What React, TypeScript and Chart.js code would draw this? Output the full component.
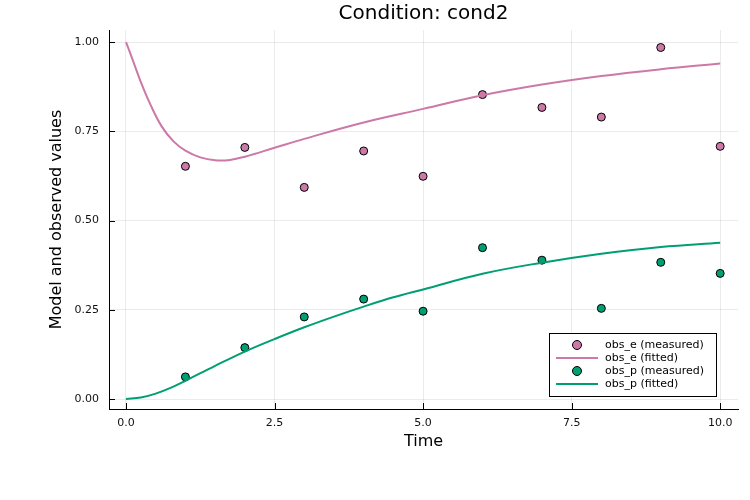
import React, { useEffect, useRef } from "react";
import { Chart, registerables } from "chart.js";

Chart.register(...registerables);

const titleText = "Condition: cond2";
const xTitle = "Time";
const yTitle = "Model and observed values";

const obsTimes = [1, 2, 3, 4, 5, 6, 7, 8, 9, 10];
const obsE = [0.652, 0.705, 0.593, 0.695, 0.624, 0.853, 0.817, 0.79, 0.985, 0.708];
const obsP = [0.062, 0.144, 0.23, 0.28, 0.246, 0.424, 0.389, 0.254, 0.383, 0.352];

const fitTimesE = [0, 0.1, 0.25, 0.4, 0.6, 0.8, 1.0, 1.25, 1.5, 1.75, 2, 2.5, 3, 4, 5, 6, 7, 8, 9, 10];
const fitValsE = [1.0, 0.956, 0.888, 0.829, 0.764, 0.722, 0.696, 0.677, 0.669, 0.670, 0.679, 0.704, 0.729, 0.775, 0.813, 0.851, 0.881, 0.905, 0.924, 0.94];

const fitTimesP = [0, 0.25, 0.5, 0.75, 1, 1.5, 2, 2.5, 3, 3.5, 4, 4.5, 5, 6, 7, 8, 9, 10];
const fitValsP = [0, 0.004, 0.015, 0.031, 0.051, 0.093, 0.133, 0.168, 0.201, 0.231, 0.259, 0.285, 0.307, 0.351, 0.382, 0.407, 0.426, 0.438];

const xTicks = [0, 2.5, 5, 7.5, 10];
const yTicks = [0, 0.25, 0.5, 0.75, 1.0];

const legendLabels = ["obs_e (measured)", "obs_e (fitted)", "obs_p (measured)", "obs_p (fitted)"];

const PINK = "#CC79A7";
const GREEN = "#009E73";
const FONT = "'DejaVu Sans', sans-serif";

const zip = (xs: number[], ys: number[]) => xs.map((x, i) => ({ x, y: ys[i] }));

export default function App() {
  const ref = useRef<HTMLCanvasElement | null>(null);

  useEffect(() => {
    if (!ref.current) return;

    const overlay = {
      id: "overlay",
      afterDraw(chart: any) {
        const ctx = chart.ctx;
        const ca = chart.chartArea;
        const xs = chart.scales.x;
        const ys = chart.scales.y;
        ctx.save();
        // inward tick marks
        ctx.strokeStyle = "#000";
        ctx.lineWidth = 1;
        ctx.beginPath();
        xTicks.forEach((v) => {
          const px = Math.round(xs.getPixelForValue(v)) + 0.5;
          ctx.moveTo(px, ca.bottom);
          ctx.lineTo(px, ca.bottom - 6);
        });
        yTicks.forEach((v) => {
          const py = Math.round(ys.getPixelForValue(v)) + 0.5;
          ctx.moveTo(ca.left, py);
          ctx.lineTo(ca.left + 6, py);
        });
        ctx.stroke();

        // title
        ctx.fillStyle = "#000";
        ctx.font = `20px ${FONT}`;
        ctx.textAlign = "center";
        ctx.textBaseline = "middle";
        ctx.fillText(titleText, (ca.left + ca.right) / 2, 14);

        // legend
        const bx = 549.5, by = 333.5, bw = 167, bh = 63;
        ctx.fillStyle = "#fff";
        ctx.fillRect(bx, by, bw, bh);
        ctx.strokeStyle = "#000";
        ctx.lineWidth = 1;
        ctx.strokeRect(bx, by, bw, bh);
        const rows = [345, 358, 371, 384];
        const colors = [PINK, PINK, GREEN, GREEN];
        ctx.font = `11px ${FONT}`;
        ctx.textAlign = "left";
        ctx.textBaseline = "middle";
        rows.forEach((ry, i) => {
          if (i % 2 === 0) {
            ctx.beginPath();
            ctx.arc(577, ry, 4.5, 0, Math.PI * 2);
            ctx.fillStyle = colors[i];
            ctx.fill();
            ctx.strokeStyle = "#000";
            ctx.lineWidth = 1;
            ctx.stroke();
          } else {
            ctx.beginPath();
            ctx.moveTo(556, ry);
            ctx.lineTo(598, ry);
            ctx.strokeStyle = colors[i];
            ctx.lineWidth = 2;
            ctx.stroke();
          }
          ctx.fillStyle = "#000";
          ctx.fillText(legendLabels[i], 605, ry);
        });
        ctx.restore();
      },
    };

    const chart = new Chart(ref.current, {
      type: "scatter",
      data: {
        datasets: [
          {
            label: legendLabels[0],
            data: zip(obsTimes, obsE),
            backgroundColor: PINK,
            borderColor: "#000",
            borderWidth: 1,
            pointRadius: 4,
            showLine: false,
            order: 4,
          },
          {
            label: legendLabels[1],
            data: zip(fitTimesE, fitValsE),
            borderColor: PINK,
            backgroundColor: PINK,
            borderWidth: 2,
            pointRadius: 0,
            showLine: true,
            tension: 0.4,
            order: 3,
          },
          {
            label: legendLabels[2],
            data: zip(obsTimes, obsP),
            backgroundColor: GREEN,
            borderColor: "#000",
            borderWidth: 1,
            pointRadius: 4,
            showLine: false,
            order: 2,
          },
          {
            label: legendLabels[3],
            data: zip(fitTimesP, fitValsP),
            borderColor: GREEN,
            backgroundColor: GREEN,
            borderWidth: 2,
            pointRadius: 0,
            showLine: true,
            tension: 0.4,
            order: 1,
          },
        ],
      } as any,
      options: {
        responsive: false,
        animation: false,
        layout: { padding: { top: 30, right: 12, left: 0, bottom: 0 } },
        plugins: {
          legend: { display: false },
          title: { display: false },
          tooltip: { enabled: false },
        },
        scales: {
          x: {
            type: "linear",
            min: -0.286,
            max: 10.3,
            afterBuildTicks: (s: any) => {
              s.ticks = xTicks.map((v) => ({ value: v }));
            },
            afterFit: (s: any) => {
              s.height = 91;
            },
            ticks: {
              autoSkip: false,
              maxRotation: 0,
              padding: 8,
              color: "#111",
              font: { family: FONT, size: 11 },
              callback: (v: any) => Number(v).toFixed(1),
            },
            grid: { color: "rgba(0,0,0,0.08)", lineWidth: 1, drawTicks: false },
            border: { display: true, color: "#000", width: 1 },
            title: {
              display: true,
              text: xTitle,
              color: "#000",
              font: { family: FONT, size: 16 },
              padding: { top: 0, bottom: 49 },
            },
          },
          y: {
            type: "linear",
            min: -0.028,
            max: 1.034,
            afterBuildTicks: (s: any) => {
              s.ticks = yTicks.map((v) => ({ value: v }));
            },
            afterFit: (s: any) => {
              s.width = 109;
            },
            ticks: {
              autoSkip: false,
              padding: 10,
              color: "#111",
              font: { family: FONT, size: 11 },
              callback: (v: any) => Number(v).toFixed(2),
            },
            grid: { color: "rgba(0,0,0,0.08)", lineWidth: 1, drawTicks: false },
            border: { display: true, color: "#000", width: 1 },
            title: {
              display: true,
              text: yTitle,
              color: "#000",
              font: { family: FONT, size: 16 },
              padding: { top: 47, bottom: 0 },
            },
          },
        },
      } as any,
      plugins: [overlay],
    });

    return () => chart.destroy();
  }, []);

  return (
    <div style={{ position: "absolute", left: 0, top: 0, width: 750, height: 500, background: "#fff" }}>
      <canvas ref={ref} width={750} height={500} style={{ width: 750, height: 500 }} />
    </div>
  );
}
